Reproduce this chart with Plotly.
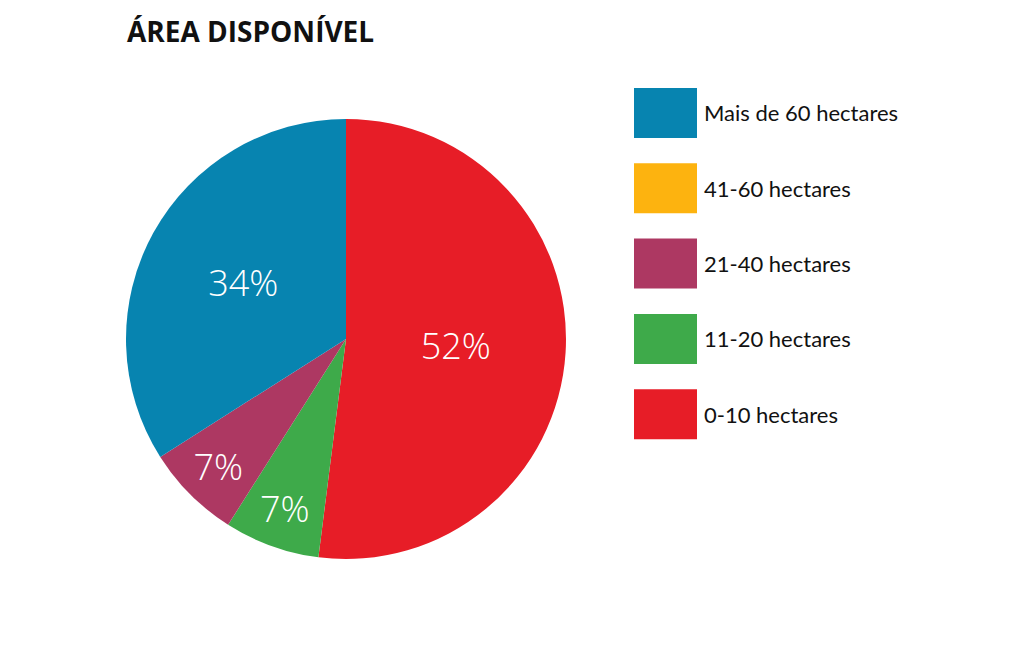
import plotly.graph_objects as go

labels = ["Mais de 60 hectares", "41-60 hectares", "21-40 hectares", "11-20 hectares", "0-10 hectares"]
values = [34, 0, 7, 7, 52]
colors = ["#0784B0", "#FDB30F", "#AD3862", "#3EAA4A", "#E71D27"]

W, H = 1024, 647
pct_text = [f"{v}%" if v > 0 else "" for v in values]

fig = go.Figure()
fig.add_trace(go.Pie(
    labels=labels[::-1],
    values=values[::-1],
    text=pct_text[::-1],
    textinfo="text",
    sort=False,
    direction="clockwise",
    rotation=0,
    marker=dict(colors=colors[::-1], line=dict(width=0)),
    textposition="inside",
    insidetextorientation="horizontal",
    insidetextfont=dict(family="Open Sans", size=36, color="white", weight=300),
    domain=dict(x=[126 / W, 566 / W], y=[1 - 559 / H, 1 - 119 / H]),
    showlegend=False,
    hoverinfo="label+percent",
))

# custom legend (large swatches)
shapes = []
annotations = []
for i, (lab, col) in enumerate(zip(labels, colors)):
    top = 88 + i * 75.3
    shapes.append(dict(type="rect", xref="paper", yref="paper",
                       x0=634 / W, x1=697 / W, y0=1 - (top + 50) / H, y1=1 - top / H,
                       fillcolor=col, line=dict(width=0)))
    annotations.append(dict(text=lab, xref="paper", yref="paper",
                            x=702 / W, y=1 - (top + 25) / H, xanchor="left", yanchor="middle",
                            showarrow=False, font=dict(family="Lato", size=22, color="#111111")))

annotations.append(dict(text="<b>ÁREA DISPONÍVEL</b>", xref="paper", yref="paper",
                        x=125 / W, y=1 - 31 / H, xanchor="left", yanchor="middle",
                        showarrow=False, font=dict(family="Open Sans", size=28, color="#111111", weight=800)))

fig.update_layout(
    width=W, height=H,
    margin=dict(l=0, r=0, t=0, b=0),
    paper_bgcolor="white",
    plot_bgcolor="white",
    shapes=shapes,
    annotations=annotations,
)

fig.write_html("out.html", config={"displayModeBar": False},
               post_script="document.body.style.margin='0';document.body.style.padding='0';")
